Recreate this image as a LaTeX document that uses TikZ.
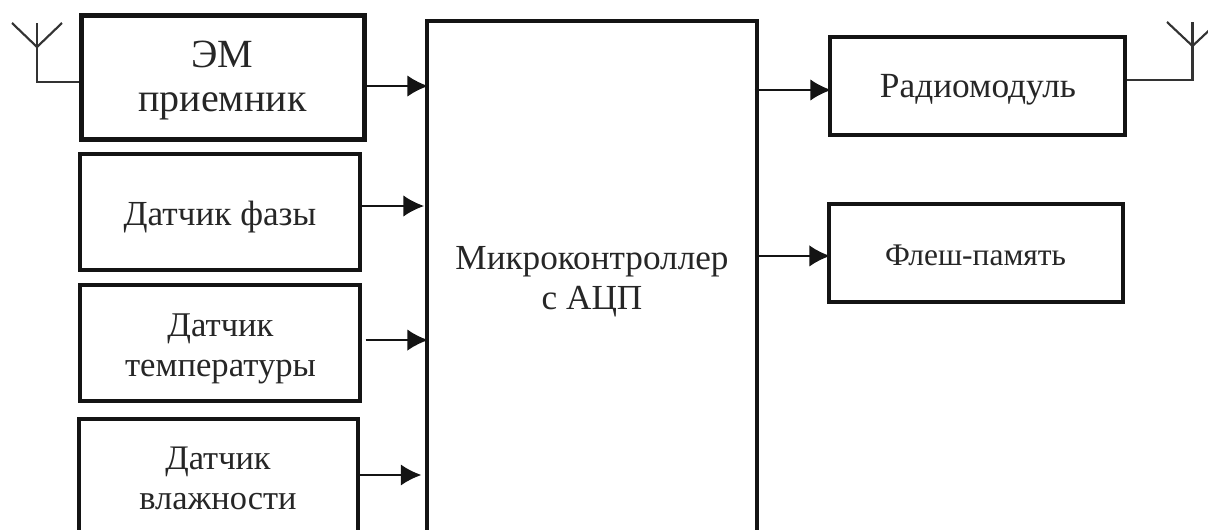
\documentclass[tikz,border=0pt]{standalone}
\usepackage{fontspec}
\setmainfont{Liberation Serif}
\usetikzlibrary{arrows.meta,calc}
\tikzset{
  x=0.75pt,y=-0.75pt,
  blk/.style={draw=black!92,line width=2.28pt,fill=white,rectangle,inner sep=0pt},
  lbl/.style={align=center,inner sep=0pt,text=black!85,font=\fontsize{26pt}{30pt}\selectfont},
  arr/.style={draw=black!92,line width=1.7pt,-{Latex[length=15.5pt,width=16pt]},shorten >=-2pt},
  wire/.style={draw=black!80,line width=1.6pt},
}
\begin{document}
\begin{tikzpicture}
\useasboundingbox (0,0) rectangle (1208,529);
\clip (0,0) rectangle (1208,529);
\node[blk,line width=3.6pt,minimum width=283*0.75pt,minimum height=124*0.75pt] (em) at (223,77.5) {};
\node[blk,minimum width=280*0.75pt,minimum height=116*0.75pt] (faza) at (220,212) {};
\node[blk,minimum width=280*0.75pt,minimum height=116*0.75pt] (temp) at (220,343) {};
\node[blk,minimum width=279*0.75pt,minimum height=116*0.75pt] (vlag) at (218.5,477) {};
\node[blk,minimum width=330*0.75pt,minimum height=512*0.75pt] (mcu) at (592,277) {};
\node[blk,minimum width=295*0.75pt,minimum height=98*0.75pt] (radio) at (977.5,86) {};
\node[blk,minimum width=294*0.75pt,minimum height=98*0.75pt] (flash) at (976,253) {};

\node[lbl,font=\fontsize{30pt}{33pt}\selectfont] (em-t) at (222.5,80.5) {ЭМ\\приемник};
\node[lbl,font=\fontsize{26.4pt}{30pt}\selectfont] (faza-t) at (220,217) {Датчик фазы};
\node[lbl] (temp-t) at (220.5,348.5) {Датчик\\температуры};
\node[lbl,font=\fontsize{25.8pt}{30pt}\selectfont] (vlag-t) at (218,478) {Датчик\\влажности};
\node[lbl,font=\fontsize{26.4pt}{30pt}\selectfont] (mcu-t) at (592,282) {Микроконтроллер\\с АЦП};
\node[lbl,font=\fontsize{26.5pt}{30pt}\selectfont] (radio-t) at (978,90) {Радиомодуль};
\node[lbl,font=\fontsize{23.6pt}{30pt}\selectfont] (flash-t) at (975.5,255) {Флеш-память};

\draw[arr] ([yshift=-6.4pt]em.east) -- ([yshift=-6.4pt]em.east -| mcu.west);
\draw[arr] ([yshift=4.5pt]faza.east) -- ([yshift=4.5pt,xshift=-3pt]faza.east -| mcu.west);
\draw[arr] ([yshift=2.2pt,xshift=3pt]temp.east) -- ([yshift=2.2pt]temp.east -| mcu.west);
\draw[arr] ([yshift=1.5pt]vlag.east) -- ([yshift=1.5pt,xshift=-5pt]vlag.east -| mcu.west);
\draw[arr] ([yshift=-3pt,xshift=-3pt]radio.west -| mcu.east) -- ([yshift=-3pt]radio.west);
\draw[arr] ([yshift=-2.2pt,xshift=-1.5pt]flash.west -| mcu.east) -- ([yshift=-2.2pt]flash.west);

\coordinate (antL) at (37,47);
\coordinate (antR) at (1192.5,46);
\draw[wire] (em.west |- 0,82) -- (antL |- 0,82) -- (antL) -- +(0,-24);
\draw[wire] (12,23) -- (antL) -- (62,23);
\draw[wire] (radio.east |- 0,80) -- (antR |- 0,80) -- (antR) -- +(0,-24);
\draw[wire] (1167,22) -- (antR) -- (1218,22);
\end{tikzpicture}
\end{document}
